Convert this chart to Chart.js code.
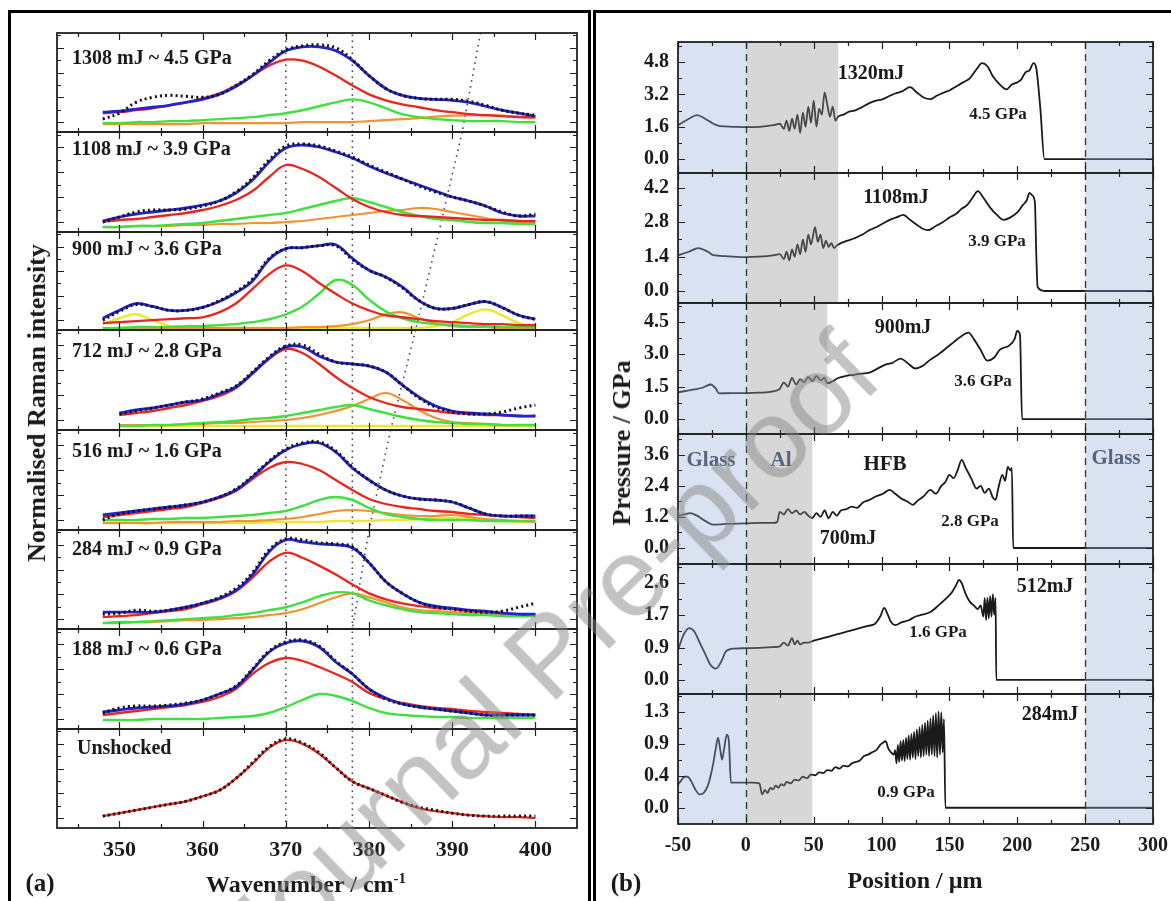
<!DOCTYPE html>
<html>
<head>
<meta charset="utf-8">
<title>Raman shift and pressure profiles</title>
<script src="https://cdn.jsdelivr.net/npm/chart.js@4.4.0/dist/chart.umd.min.js"></script>
<style>
  html, body { margin: 0; padding: 0; background: #fff; }
  body { position: relative; width: 1171px; height: 901px; overflow: hidden;
         font-family: "Liberation Serif", "Times New Roman", serif; font-weight: bold; color: #1a1a1a; }
  canvas { position: absolute; top: 0; }
  .box { position: absolute; border: 3px solid #000; border-bottom: none; }
  .lbl { position: absolute; white-space: nowrap; line-height: 1; transform: translate(-50%, -50%); }
  .lbl.left { transform: translate(0, -50%); }
  .lbl.up { transform: translate(-50%, -50%) rotate(-90deg); }
  .stamp { position: absolute; white-space: nowrap; line-height: 1; font-family: "Liberation Sans", Arial, sans-serif;
           font-weight: normal; font-size: 112px; color: rgba(135,135,135,0.5); pointer-events: none;
           transform: translate(-50%, -50%) rotate(-44deg); z-index: 5; }
</style>
</head>
<body>
<div class="box" style="left:8px;top:10px;width:577px;height:900px"></div>
<div class="box" style="left:593px;top:10px;width:600px;height:900px"></div>
<script>
// ---------- (a) Raman spectra, normalised to each strip's height ----------
const wn = [348,350,352,354,356,358,360,362,364,366,368,370,372,374,376,378,380,382,384,386,388,390,392,394,396,398,400];
const wnTicks = [350, 360, 370, 380, 390, 400];
const wnMinor = [345, 355, 365, 375, 385, 395];
const refShift = [370, 378];
const driftLine = [393.4, 391.2, 388.4, 385.6, 382.6, 380.0, 378.0];

const obs1308 = [.13,.19,.30,.35,.37,.36,.35,.38,.47,.58,.72,.83,.87,.88,.85,.73,.57,.44,.37,.34,.33,.33,.31,.27,.22,.19,.17];
const fit1308 = [.20,.21,.23,.25,.27,.30,.33,.38,.46,.57,.70,.82,.86,.86,.82,.72,.57,.44,.37,.34,.33,.32,.30,.26,.22,.19,.16];
const red1308 = [.19,.20,.22,.24,.27,.30,.34,.39,.47,.57,.67,.73,.72,.66,.57,.47,.38,.32,.28,.25,.22,.20,.18,.17,.16,.15,.15];
const green1308 = [.09,.09,.10,.10,.11,.11,.12,.13,.14,.15,.17,.19,.22,.26,.30,.33,.30,.24,.18,.15,.13,.12,.11,.11,.11,.10,.10];
const orange1308 = [.08,.08,.08,.08,.08,.08,.09,.09,.09,.09,.09,.09,.10,.10,.10,.10,.11,.12,.13,.14,.155,.165,.17,.17,.165,.155,.14];

const obs1108 = [.10,.15,.20,.22,.22,.23,.26,.31,.40,.54,.72,.86,.88,.86,.81,.75,.67,.60,.53,.46,.40,.35,.31,.26,.20,.16,.18];
const fit1108 = [.11,.15,.18,.20,.22,.24,.27,.31,.39,.52,.70,.84,.87,.85,.80,.74,.66,.59,.53,.47,.41,.35,.31,.26,.19,.16,.16];
const red1108 = [.10,.12,.13,.15,.17,.19,.22,.26,.32,.41,.55,.67,.63,.55,.44,.33,.25,.20,.17,.16,.15,.14,.13,.12,.12,.11,.11];
const green1108 = [.05,.05,.06,.06,.07,.08,.09,.11,.13,.15,.17,.19,.23,.27,.31,.34,.30,.25,.20,.16,.13,.12,.10,.09,.09,.08,.08];
const orange1108 = [.05,.05,.06,.06,.06,.07,.07,.08,.08,.09,.09,.10,.11,.13,.15,.17,.19,.21,.22,.24,.23,.20,.17,.14,.11,.10,.09];

const obs900 = [.10,.19,.26,.24,.20,.20,.23,.30,.39,.52,.73,.83,.84,.86,.86,.72,.61,.54,.43,.30,.22,.22,.26,.29,.23,.15,.11];
const fit900 = [.12,.20,.27,.24,.20,.20,.23,.29,.38,.50,.72,.83,.84,.86,.87,.73,.61,.54,.44,.30,.22,.22,.26,.29,.23,.15,.11];
const red900 = [.07,.08,.09,.10,.11,.12,.13,.18,.27,.42,.57,.66,.60,.48,.37,.27,.20,.15,.13,.11,.09,.08,.07,.06,.06,.05,.05];
const green900 = [.02,.02,.03,.03,.03,.04,.04,.05,.06,.08,.11,.16,.24,.37,.51,.46,.31,.19,.12,.08,.06,.05,.04,.04,.03,.03,.03];
const orange900 = [.02,.02,.02,.02,.02,.02,.02,.02,.02,.02,.02,.02,.03,.03,.04,.06,.10,.16,.18,.12,.07,.04,.03,.03,.02,.02,.02];
const yellow900 = [.06,.12,.16,.10,.04,.02,.02,.02,.02,.02,.02,.02,.02,.02,.02,.02,.02,.02,.02,.02,.04,.08,.16,.21,.15,.07,.04];

const obs712 = [null,.16,.19,.22,.25,.28,.31,.37,.44,.58,.73,.84,.85,.76,.68,.66,.64,.58,.45,.32,.23,.18,.16,.16,.18,.22,.25];
const fit712 = [null,.17,.20,.22,.25,.28,.30,.36,.43,.57,.72,.83,.83,.74,.68,.66,.64,.58,.45,.33,.24,.19,.17,.16,.15,.14,.14];
const red712 = [null,.15,.17,.19,.22,.25,.29,.34,.42,.56,.71,.81,.77,.66,.53,.42,.33,.27,.23,.21,.19,.17,.16,.15,.15,.14,.14];
const green712 = [null,.04,.04,.05,.05,.06,.07,.08,.09,.11,.12,.14,.17,.20,.23,.25,.21,.17,.13,.10,.08,.07,.06,.06,.05,.05,.05];
const orange712 = [null,.05,.05,.05,.05,.06,.06,.07,.07,.08,.09,.10,.12,.15,.19,.24,.31,.37,.30,.20,.12,.08,.07,.06,.05,.05,.05];
const yellow712 = [null,.04,.04,.04,.04,.04,.04,.04,.04,.04,.04,.04,.04,.04,.04,.04,.04,.04,.04,.04,.04,.04,.04,.04,.04,.04,.04];

const obs516 = [.10,.16,.19,.21,.23,.25,.28,.33,.41,.54,.69,.81,.87,.88,.79,.63,.50,.40,.34,.31,.30,.28,.22,.16,.14,.14,.14];
const fit516 = [.15,.17,.19,.21,.23,.25,.28,.33,.40,.53,.68,.80,.86,.87,.78,.62,.50,.40,.34,.31,.30,.28,.22,.16,.14,.14,.14];
const red516 = [.13,.15,.17,.19,.21,.23,.27,.32,.39,.51,.62,.68,.66,.60,.50,.40,.31,.26,.23,.21,.19,.18,.16,.15,.14,.13,.12];
const green516 = [.10,.10,.10,.11,.11,.12,.12,.13,.14,.15,.17,.19,.24,.30,.33,.30,.22,.16,.13,.11,.10,.10,.10,.09,.09,.09,.09];
const orange516 = [.07,.07,.07,.07,.08,.08,.08,.08,.09,.09,.10,.11,.13,.16,.19,.20,.19,.17,.15,.14,.14,.15,.13,.11,.10,.09,.08];
const yellow516 = [.07,.07,.07,.07,.07,.07,.07,.07,.07,.07,.08,.08,.08,.08,.09,.09,.09,.10,.10,.11,.12,.12,.11,.10,.09,.08,.08];

const obs284 = [.15,.16,.19,.18,.19,.22,.26,.32,.41,.57,.80,.91,.90,.87,.86,.83,.67,.48,.36,.27,.22,.20,.18,.17,.18,.22,.26];
const fit284 = [.17,.17,.17,.17,.19,.22,.26,.31,.39,.55,.78,.90,.88,.86,.85,.82,.67,.48,.36,.27,.23,.21,.19,.18,.16,.15,.15];
const red284 = [.12,.13,.14,.16,.18,.20,.25,.30,.38,.52,.68,.77,.72,.64,.55,.45,.36,.30,.26,.23,.21,.20,.18,.17,.16,.15,.15];
const green284 = [.06,.07,.07,.08,.09,.10,.11,.12,.14,.16,.19,.22,.27,.33,.37,.36,.29,.24,.20,.17,.16,.15,.14,.14,.13,.13,.13];
const orange284 = [.06,.06,.07,.07,.08,.09,.09,.10,.11,.12,.14,.16,.20,.26,.32,.36,.32,.27,.22,.19,.18,.17,.16,.15,.14,.13,.13];

const obs188 = [.16,.21,.23,.23,.24,.26,.29,.35,.43,.60,.78,.87,.89,.83,.68,.55,.40,.30,.25,.22,.20,.18,.16,.14,.14,.14,.14];
const fit188 = [.17,.19,.21,.22,.23,.25,.29,.35,.42,.59,.77,.86,.88,.82,.67,.55,.40,.31,.25,.22,.20,.18,.16,.14,.14,.14,.14];
const red188 = [.14,.16,.18,.20,.22,.24,.27,.32,.40,.55,.66,.71,.68,.62,.55,.47,.36,.30,.26,.23,.21,.20,.18,.17,.16,.15,.14];
const green188 = [.09,.09,.09,.10,.10,.10,.10,.11,.12,.13,.16,.22,.29,.35,.33,.28,.21,.16,.14,.13,.12,.12,.11,.11,.11,.11,.11];

const obsRef = [.12,.15,.18,.21,.24,.27,.32,.38,.50,.66,.82,.90,.86,.76,.61,.47,.40,.33,.26,.21,.18,.15,.13,.12,.12,.12,.12];
const redRef = [.12,.15,.18,.21,.24,.27,.32,.38,.50,.65,.81,.89,.85,.75,.61,.47,.40,.33,.26,.20,.17,.15,.13,.12,.11,.11,.10];

const shotLabels = ['1308 mJ ~ 4.5 GPa', '1108 mJ ~ 3.9 GPa', '900 mJ ~ 3.6 GPa', '712 mJ ~ 2.8 GPa',
                    '516 mJ ~ 1.6 GPa', '284 mJ ~ 0.9 GPa', '188 mJ ~ 0.6 GPa', 'Unshocked'];

// ---------- (b) pressure profiles ----------
const posTicks = [-50, 0, 50, 100, 150, 200, 250, 300];
const posMinor = [-25, 25, 75, 125, 175, 225, 275];
const interfaces = [0, 250];
const glassLeft = [-50, 0], glassRight = [250, 300];
const alEdge = [68, 68, 60, 49, 49, 49];

const pos1320 = [-50,-42,-36,-30,-24,-19,-10,0,10,20,25,28,30,32,34,36,38,40,42,44,46,48,50,52,54,56,58,60,62,64,66,68,72,76,80,85,91,96,100,105,110,115,121,126,131,136,141,146,150,155,160,165,170,174,178,182,187,192,196,200,203,206,209,212,214,217,220,300];
const p1320 = [1.68,2.0,2.18,2.0,1.75,1.63,1.6,1.58,1.6,1.68,1.75,1.5,1.9,1.4,2.0,1.5,2.2,1.3,2.3,1.6,2.6,1.8,2.9,1.6,2.5,2.2,3.3,2.7,2.1,2.6,1.9,2.1,2.2,2.35,2.4,2.55,2.77,2.9,2.95,3.1,3.25,3.35,3.56,3.3,3.05,2.97,3.15,3.3,3.4,3.6,3.8,4.0,4.45,4.75,4.6,4.1,3.7,3.45,3.7,3.8,3.95,4.3,4.4,4.75,4.5,2.5,0.0,0.0];
const yTicks1320 = [0, 1.6, 3.2, 4.8];

const pos1108 = [-50,-42,-35,-28,-24,-15,0,10,20,25,28,30,32,34,36,38,40,42,44,46,48,51,53,55,57,59,61,63,65,67,70,75,80,86,91,96,101,106,111,116,121,126,130,134,140,145,150,155,159,163,167,171,175,180,185,190,195,200,204,207,209,211,213,214,215,220,300];
const p1108 = [1.46,1.6,1.75,1.6,1.46,1.42,1.38,1.4,1.45,1.5,1.3,1.6,1.25,1.7,1.4,1.9,1.5,2.1,1.6,2.3,1.9,2.6,2.0,2.3,1.75,2.05,1.8,1.95,1.75,1.85,1.95,2.05,2.15,2.3,2.48,2.6,2.75,2.9,3.0,3.1,2.9,2.7,2.55,2.48,2.65,2.8,3.0,3.15,3.35,3.5,3.8,4.07,3.8,3.4,3.1,2.9,3.0,3.2,3.5,3.7,4.0,3.9,3.6,1.5,0.16,0.0,0.0];
const yTicks1108 = [0, 1.4, 2.8, 4.2];

const pos900 = [-50,-40,-32,-26,-22,-20,-10,0,10,20,25,28,31,34,37,40,43,46,49,52,55,58,60,64,68,74,80,85,91,96,102,108,114,119,125,130,136,142,148,153,158,164,168,173,178,183,187,190,194,198,200,202,203.5,210,300];
const p900 = [1.24,1.35,1.45,1.6,1.4,1.19,1.2,1.2,1.22,1.28,1.4,1.7,1.5,1.9,1.6,1.85,1.7,1.95,1.75,2.0,1.8,1.9,1.65,1.75,1.9,2.0,2.05,2.1,2.15,2.3,2.5,2.6,2.8,2.6,2.34,2.45,2.75,3.0,3.3,3.55,3.8,4.0,3.7,3.2,2.7,2.85,3.2,3.3,3.4,3.7,4.08,3.9,0.0,0.0,0.0];
const yTicks900 = [0, 1.5, 3.0, 4.5];

const pos700 = [-50,-45,-41,-36,-30,-24,-15,0,10,20,23,25,28,31,34,37,40,43,46,49,52,55,58,61,64,67,70,74,78,82,86,91,96,101,106,110,115,119,123,127,131,136,140,144,147,150,153,156,159,162,166,170,173,176,179,182,184,186,189,191,193,195,196,197,200,300];
const p700 = [1.24,1.3,1.35,1.25,1.05,0.9,0.93,0.95,0.97,0.97,1.0,1.4,1.3,1.5,1.35,1.45,1.3,1.4,1.25,1.16,1.35,1.2,1.45,1.15,1.4,1.25,1.45,1.5,1.6,1.55,1.75,1.86,2.0,2.1,2.25,2.1,1.9,1.8,1.67,1.85,2.0,2.25,2.1,2.4,2.55,2.83,2.7,3.0,3.41,3.1,2.7,2.3,2.4,2.13,2.3,1.95,1.86,2.3,2.83,2.6,3.14,3.0,3.1,0.0,0.0,0.0];
const yTicks700 = [0, 1.2, 2.4, 3.6];

const pos512 = [-50,-46,-42,-38,-34,-30,-26,-22,-18,-15,-12,-8,0,10,20,25,28,31,34,36,38,40,43,46,50,55,60,65,70,75,80,85,90,95,99,102,104,107,110,115,120,125,130,136,142,148,152,155,157,159,162,165,168,171,173,175,176,177,178,179,180,181,182,183,184,184.5,190,300];
const p512 = [0.8,1.2,1.39,1.3,1.0,0.7,0.4,0.3,0.5,0.75,0.82,0.84,0.85,0.86,0.88,0.9,1.0,0.92,1.12,0.95,1.05,0.95,1.0,1.0,1.05,1.1,1.15,1.2,1.25,1.3,1.35,1.4,1.45,1.5,1.7,1.93,1.8,1.55,1.47,1.55,1.6,1.7,1.75,1.82,2.0,2.2,2.36,2.55,2.68,2.6,2.3,2.1,2.0,1.9,2.0,1.7,2.2,1.6,2.2,1.65,2.25,1.7,2.3,1.75,2.2,0.0,0.0,0.0];
const yTicks512 = [0, 0.867, 1.733, 2.6];

const pos284 = [-50,-48,-45,-43,-40,-37,-34,-31,-28,-26,-24,-22,-20.5,-19,-17.5,-16,-14,-12.5,-11,-5,0,5,10,12,14,16,18,20,22,24,26,28,30,33,36,39,42,45,48,51,54,57,60,63,66,69,72,75,78,81,84,87,90,93,96,99,101,103,105,107,109,
  110,111,112,113,114,115,116,117,118,119,120,121,122,123,124,125,126,127,128,129,130,131,132,133,134,135,136,137,138,139,140,141,142,143,144,145,146,147,150,300];
const p284 = [0.31,0.36,0.42,0.42,0.35,0.24,0.18,0.2,0.3,0.43,0.6,0.82,0.95,0.8,0.65,0.8,0.99,0.9,0.34,0.34,0.34,0.34,0.33,0.18,0.24,0.2,0.27,0.25,0.3,0.27,0.32,0.3,0.35,0.33,0.38,0.37,0.42,0.4,0.45,0.44,0.48,0.47,0.51,0.5,0.55,0.53,0.57,0.56,0.6,0.62,0.64,0.7,0.72,0.75,0.78,0.85,0.88,0.9,0.8,0.75,0.72,
  0.78,0.6,0.85,0.62,0.9,0.64,0.92,0.63,0.95,0.66,0.98,0.65,1.0,0.68,1.03,0.66,1.06,0.7,1.09,0.68,1.12,0.7,1.15,0.72,1.18,0.7,1.21,0.72,1.25,0.7,1.28,0.68,1.3,0.72,1.29,0.75,1.2,0.0,0.0,0.0];
const yTicks284 = [0, 0.433, 0.867, 1.3];

// ---------- layout ----------
const aTops = [33, 132, 232, 330, 430, 530, 629, 729], aBottom = 828;
const bTops = [42, 173, 303, 434, 564, 694], bBottom = 824;
const serif = '"Liberation Serif", "Times New Roman", serif';
const C = { obs: '#111', fit: '#2323d2', red: '#e8261e', green: '#3fe03f', orange: '#f29332', yellow: '#ece830', guide: '#444' };

const spectra = [
  { obs: obs1308, fit: fit1308, red: red1308, green: green1308, orange: orange1308 },
  { obs: obs1108, fit: fit1108, red: red1108, green: green1108, orange: orange1108 },
  { obs: obs900, fit: fit900, red: red900, green: green900, orange: orange900, yellow: yellow900 },
  { obs: obs712, fit: fit712, red: red712, green: green712, orange: orange712, yellow: yellow712 },
  { obs: obs516, fit: fit516, red: red516, green: green516, orange: orange516, yellow: yellow516 },
  { obs: obs284, fit: fit284, red: red284, green: green284, orange: orange284 },
  { obs: obs188, fit: fit188, red: red188, green: green188 },
  { obs: obsRef, red: redRef }
];

const profiles = [
  { pos: pos1320, p: p1320, ticks: yTicks1320, min: -0.69, max: 5.8 },
  { pos: pos1108, p: p1108, ticks: yTicks1108, min: -0.49, max: 4.81 },
  { pos: pos900, p: p900, ticks: yTicks900, min: -0.69, max: 5.37 },
  { pos: pos700, p: p700, ticks: yTicks700, min: -0.62, max: 4.41 },
  { pos: pos512, p: p512, ticks: yTicks512, min: -0.38, max: 3.11 },
  { pos: pos284, p: p284, ticks: yTicks284, min: -0.22, max: 1.54 }
];

// box + inward ticks on all four sides
function framePlugin(xMajor, xMinor, yMajor, yMinor) {
  return {
    id: 'frame',
    afterDatasetsDraw(chart) {
      const { ctx, chartArea: a } = chart;
      const sx = chart.scales.x, sy = chart.scales.y;
      ctx.save();
      ctx.strokeStyle = '#222';
      ctx.lineWidth = 1.2;
      ctx.beginPath();
      const vx = (vals, len) => vals.forEach(v => {
        const px = Math.round(sx.getPixelForValue(v)) + 0.5;
        ctx.moveTo(px, a.bottom); ctx.lineTo(px, a.bottom - len);
        ctx.moveTo(px, a.top); ctx.lineTo(px, a.top + len);
      });
      const vy = (vals, len) => vals.forEach(v => {
        const py = Math.round(sy.getPixelForValue(v)) + 0.5;
        ctx.moveTo(a.left, py); ctx.lineTo(a.left + len, py);
        ctx.moveTo(a.right, py); ctx.lineTo(a.right - len, py);
      });
      vx(xMajor, 7); vx(xMinor, 4);
      vy(yMajor, 7); vy(yMinor, 4);
      ctx.stroke();
      ctx.lineWidth = 1.8;
      ctx.strokeRect(a.left, a.top, a.width, a.height);
      ctx.restore();
    }
  };
}

// glass / aluminium zones and the two interface markers
function zonePlugin(al) {
  return {
    id: 'zones',
    afterDatasetsDraw(chart) {
      const { ctx, chartArea: a } = chart;
      const sx = chart.scales.x;
      const band = (from, to, fill) => {
        const x0 = sx.getPixelForValue(from), x1 = sx.getPixelForValue(to);
        ctx.fillStyle = fill;
        ctx.fillRect(x0, a.top, x1 - x0, a.height);
      };
      ctx.save();
      band(glassLeft[0], glassLeft[1], 'rgba(150,175,215,0.36)');
      band(glassRight[0], glassRight[1], 'rgba(150,175,215,0.36)');
      band(interfaces[0], al, 'rgba(150,150,150,0.38)');
      ctx.strokeStyle = '#333';
      ctx.lineWidth = 1.3;
      ctx.setLineDash([7, 5]);
      ctx.beginPath();
      interfaces.forEach(v => {
        const px = Math.round(sx.getPixelForValue(v)) + 0.5;
        ctx.moveTo(px, a.top); ctx.lineTo(px, a.bottom);
      });
      ctx.stroke();
      ctx.restore();
    }
  };
}

function addCanvas(left, width) {
  const cv = document.createElement('canvas');
  cv.width = width; cv.height = 901;
  cv.style.left = left + 'px';
  cv.style.width = width + 'px'; cv.style.height = '901px';
  document.body.appendChild(cv);
  return cv;
}

const line = (xs, ys, color, width, extra) => Object.assign({
  data: xs.map((x, k) => ({ x, y: ys[k] })),
  borderColor: color, borderWidth: width, pointRadius: 0, fill: false, tension: 0.4
}, extra || {});

// ---------- draw (a) ----------
spectra.forEach((s, i) => {
  const top = aTops[i], bottom = aTops[i + 1] || aBottom;
  const last = i === spectra.length - 1;
  const ds = [];
  ds.push(line(wn, s.obs, C.obs, 3, { borderDash: [2, 3.2], order: 0 }));
  if (s.fit) ds.push(line(wn, s.fit, C.fit, 2.8, { order: 1 }));
  ds.push(line(wn, s.red, C.red, 2.3, { order: 2 }));
  if (s.green) ds.push(line(wn, s.green, C.green, 2.4, { order: 3 }));
  if (s.orange) ds.push(line(wn, s.orange, C.orange, 2.2, { order: 4 }));
  if (s.yellow) ds.push(line(wn, s.yellow, C.yellow, 2.4, { order: 5 }));
  refShift.forEach(w => ds.push(line([w, w], [0, 1], C.guide, 1.6, { borderDash: [1.5, 4.5], tension: 0, order: 8 })));
  if (driftLine[i + 1] !== undefined) {
    ds.push(line([driftLine[i], driftLine[i + 1]], [1, 0], C.guide, 1.6, { borderDash: [1.5, 4.5], tension: 0, order: 8 }));
  }
  new Chart(addCanvas(0, 592), {
    type: 'line',
    data: { datasets: ds },
    options: {
      responsive: false, animation: false, devicePixelRatio: 1, events: [],
      layout: { padding: { left: 57, right: 15, top: top, bottom: last ? 901 - bottom - 40 : 901 - bottom } },
      plugins: { legend: { display: false }, tooltip: { enabled: false } },
      scales: {
        x: {
          type: 'linear', min: 342.5, max: 405, display: last,
          grid: { display: false, drawTicks: false }, border: { display: false },
          afterBuildTicks: sc => { sc.ticks = wnTicks.map(value => ({ value })); },
          afterFit: sc => { sc.height = last ? 40 : 0; },
          ticks: { autoSkip: false, maxRotation: 0, padding: 9, color: '#1a1a1a',
                   font: { family: serif, weight: 'bold', size: 22 } }
        },
        y: { min: 0, max: 1, display: false }
      }
    },
    plugins: [framePlugin(wnTicks, wnMinor, [0.1, 0.35, 0.6, 0.85], [0.225, 0.475, 0.725, 0.975])]
  });
});

// ---------- draw (b) ----------
profiles.forEach((t, i) => {
  const top = bTops[i], bottom = bTops[i + 1] || bBottom;
  const last = i === profiles.length - 1;
  const minor = [];
  for (let k = 0; k < t.ticks.length - 1; k++) minor.push((t.ticks[k] + t.ticks[k + 1]) / 2);
  const above = t.ticks[t.ticks.length - 1] + (t.ticks[1] - t.ticks[0]) / 2;
  if (above < t.max) minor.push(above);
  new Chart(addCanvas(597, 620), {
    type: 'line',
    data: { datasets: [line(t.pos, t.p, '#1a1a1a', 1.8, { cubicInterpolationMode: 'monotone' })] },
    options: {
      responsive: false, animation: false, devicePixelRatio: 1, events: [],
      layout: { padding: { left: 41, right: 64, top: top, bottom: last ? 901 - bottom - 40 : 901 - bottom } },
      plugins: { legend: { display: false }, tooltip: { enabled: false } },
      scales: {
        x: {
          type: 'linear', min: -50, max: 300, display: last,
          grid: { display: false, drawTicks: false }, border: { display: false },
          afterBuildTicks: sc => { sc.ticks = posTicks.map(value => ({ value })); },
          afterFit: sc => { sc.height = last ? 40 : 0; },
          ticks: { autoSkip: false, maxRotation: 0, padding: 10, color: '#1a1a1a',
                   font: { family: serif, weight: 'bold', size: 20 } }
        },
        y: {
          type: 'linear', min: t.min, max: t.max,
          grid: { display: false, drawTicks: false }, border: { display: false },
          afterBuildTicks: sc => { sc.ticks = t.ticks.map(value => ({ value })); },
          afterFit: sc => { sc.width = 40; },
          ticks: { padding: 9, color: '#1a1a1a', callback: v => v.toFixed(1),
                   font: { family: serif, weight: 'bold', size: 20 } }
        }
      }
    },
    plugins: [zonePlugin(alEdge[i]), framePlugin(posTicks, posMinor, t.ticks, minor)]
  });
});

// ---------- text ----------
function put(text, x, y, size, cls, color) {
  const d = document.createElement('div');
  d.className = 'lbl' + (cls ? ' ' + cls : '');
  d.innerHTML = text;
  d.style.left = x + 'px';
  d.style.top = y + 'px';
  d.style.fontSize = size + 'px';
  if (color) d.style.color = color;
  document.body.appendChild(d);
}
const shotY = [57, 148, 248, 350, 450, 548, 648, 747];
shotLabels.forEach((s, i) => put(s, i === 7 ? 77 : 72, shotY[i], 20, 'left'));

put('Normalised Raman intensity', 37, 403, 26, 'up');
put('Wavenumber / cm<sup style="font-size:15px;vertical-align:9px">-1</sup>', 306, 883, 24);
put('(a)', 40, 882, 25);

put('Pressure / GPa', 622, 443, 26, 'up');
put('Position / µm', 915, 880, 24);
put('(b)', 626, 882, 25);

const slate = '#56647f';
[
  ['1320mJ', 871, 72, 20], ['4.5 GPa', 998, 113, 17],
  ['1108mJ', 896, 196, 20], ['3.9 GPa', 997, 240, 17],
  ['900mJ', 903, 326, 20], ['3.6 GPa', 983, 380, 17],
  ['HFB', 885, 463, 21], ['700mJ', 848, 537, 20], ['2.8 GPa', 970, 520, 17],
  ['512mJ', 1045, 585, 20], ['1.6 GPa', 938, 631, 17],
  ['284mJ', 1050, 713, 20], ['0.9 GPa', 906, 791, 17]
].forEach(([s, x, y, f]) => put(s, x, y, f));
put('Glass', 711, 459, 21, '', slate);
put('Al', 781, 459, 21, '', slate);
put('Glass', 1116, 457, 21, '', slate);

const stamp = document.createElement('div');
stamp.className = 'stamp';
stamp.textContent = 'Journal Pre-proof';
stamp.style.left = '548px';
stamp.style.top = '655px';
document.body.appendChild(stamp);
</script>
</body>
</html>
